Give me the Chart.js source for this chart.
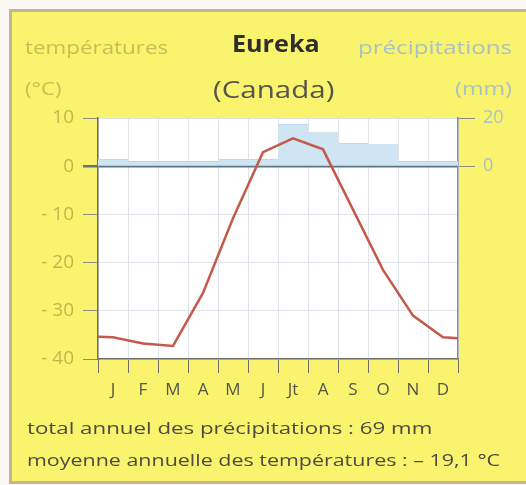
<!DOCTYPE html>
<html>
<head>
<meta charset="utf-8">
<script src="https://cdn.jsdelivr.net/npm/chart.js@4"></script>
<style>
  html, body { margin: 0; padding: 0; width: 526px; height: 485px; background: #fbf8f4; overflow: hidden; }
  .frame { position: absolute; left: 9px; top: 9px; width: 530px; height: 469px;
           background: #faf36e; border: 3px solid #c9b48f; }
  .txt { position: absolute; white-space: nowrap; font-family: "Open Sans", sans-serif; transform-origin: left center; }
  .right { transform-origin: right center; }
  canvas { position: absolute; left: 0; top: 0; }
</style>
</head>
<body>
<div class="frame"></div>
<canvas id="climate" width="526" height="485"></canvas>

<div class="txt" data-w="143" style="left:25px; top:36px; font-size:18px; line-height:22px; color:#cbbd55;">températures</div>
<div class="txt" data-w="37" style="left:25px; top:77px; font-size:18px; line-height:22px; color:#cbbd55;">(°C)</div>
<div class="txt" data-w="88" style="left:232px; top:29px; font-size:24px; line-height:28px; color:#2e2e2a; font-weight:bold;">Eureka</div>
<div class="txt" data-w="122" style="left:213px; top:75px; font-size:23px; line-height:28px; color:#55554c;">(Canada)</div>
<div class="txt right" data-w="154" style="right:14px; top:36px; font-size:18px; line-height:22px; color:#a9c3c2;">précipitations</div>
<div class="txt right" data-w="57" style="right:14px; top:77px; font-size:18px; line-height:22px; color:#a9c3c2;">(mm)</div>
<div class="txt" data-w="405" style="left:27px; top:417px; font-size:17px; line-height:22px; color:#4c4c40;">total annuel des précipitations : 69 mm</div>
<div class="txt" data-w="473" style="left:27px; top:449px; font-size:17px; line-height:22px; color:#4c4c40;">moyenne annuelle des températures : – 19,1 °C</div>

<script>
// --- Data ---
const months = ['J', 'F', 'M', 'A', 'M', 'J', 'Jt', 'A', 'S', 'O', 'N', 'D'];
const temps = [-35.5, -36.8, -37.3, -26.3, -10.8, 2.9, 5.8, 3.5, -9.0, -21.5, -31.0, -35.5];
const precip = [3, 2, 2, 2, 3, 3, 17.5, 14, 9.6, 9, 2, 2];
// temperature where the curve meets the left / right border of the plot
const tempEdges = [-35.4, -35.7];
const tempTicks = [10, 0, -10, -20, -30, -40];
const precipTicks = [20, 0];

// stretch the html labels to the widths seen in the picture
document.querySelectorAll('.txt').forEach(el => {
    const w = +el.dataset.w;
    el.style.transform = 'scaleX(' + (w / el.offsetWidth) + ')';
});

// line points: month centres, plus the two border points
const linePoints = [{ x: 0, y: tempEdges[0] }];
temps.forEach((t, i) => linePoints.push({ x: i + 0.5, y: t }));
linePoints.push({ x: 12, y: tempEdges[1] });

const whitePlot = {
    id: 'whitePlot',
    beforeDraw(chart) {
        const a = chart.chartArea;
        chart.ctx.save();
        chart.ctx.fillStyle = '#ffffff';
        chart.ctx.fillRect(a.left, a.top, a.right - a.left, a.bottom - a.top);
        chart.ctx.restore();
    }
};

const gridCol = '#dde3e8';
const zeroCol = '#5f7484';

new Chart(document.getElementById('climate'), {
    type: 'bar',
    data: {
        labels: months,
        datasets: [
            {
                type: 'line',
                label: 'températures',
                data: linePoints,
                xAxisID: 'xl',
                yAxisID: 'y',
                borderColor: '#c45a4b',
                borderWidth: 2.5,
                pointRadius: 0,
                tension: 0,
                order: 0
            },
            {
                label: 'précipitations',
                data: precip,
                xAxisID: 'x',
                yAxisID: 'y2',
                backgroundColor: '#cfe5f3',
                borderColor: '#b9d5e8',
                borderWidth: { top: 1, left: 0, right: 0, bottom: 0 },
                grouped: false,
                categoryPercentage: 1,
                barPercentage: 1,
                order: 1
            }
        ]
    },
    options: {
        responsive: false,
        animation: false,
        layout: { padding: { top: 118, bottom: 86, left: 0, right: 0 } },
        plugins: { legend: { display: false }, tooltip: { enabled: false } },
        scales: {
            x: {
                type: 'category',
                offset: true,
                afterFit: s => { s.height = 40; },
                grid: { offset: true, color: gridCol, tickColor: '#6f6f66', tickLength: 14, lineWidth: 1 },
                border: { color: '#6f6f66', width: 1.5 },
                ticks: { color: '#55554c', padding: 7, font: { family: 'Open Sans', size: 17 } }
            },
            xl: {
                type: 'linear',
                display: false,
                offset: false,
                grid: { offset: false },
                min: 0,
                max: 12
            },
            y: {
                position: 'left',
                min: -40,
                max: 10,
                afterFit: s => { s.width = 98; },
                afterBuildTicks: s => { s.ticks = tempTicks.map(v => ({ value: v })); },
                grid: {
                    color: c => c.tick && c.tick.value === 0 ? zeroCol : gridCol,
                    lineWidth: c => c.tick && c.tick.value === 0 ? 2.5 : 1,
                    tickColor: c => c.tick && c.tick.value === 0 ? zeroCol : '#8c8c80',
                    tickLength: 15
                },
                border: { color: '#6f6f66', width: 1.5 },
                ticks: {
                    color: '#c4b550',
                    padding: 9,
                    font: { family: 'Open Sans', size: 19 },
                    callback: v => v < 0 ? '- ' + Math.abs(v) : '' + v
                }
            },
            y2: {
                position: 'right',
                min: -80,
                max: 20,
                afterFit: s => { s.width = 68; },
                afterBuildTicks: s => { s.ticks = precipTicks.map(v => ({ value: v })); },
                grid: { drawOnChartArea: false, tickColor: '#8c8c80', tickLength: 17 },
                border: { color: '#8c8c80', width: 1.5 },
                ticks: { color: '#a9c3c2', padding: 8, font: { family: 'Open Sans', size: 18 } }
            }
        }
    },
    plugins: [whitePlot]
});
</script>
</body>
</html>
